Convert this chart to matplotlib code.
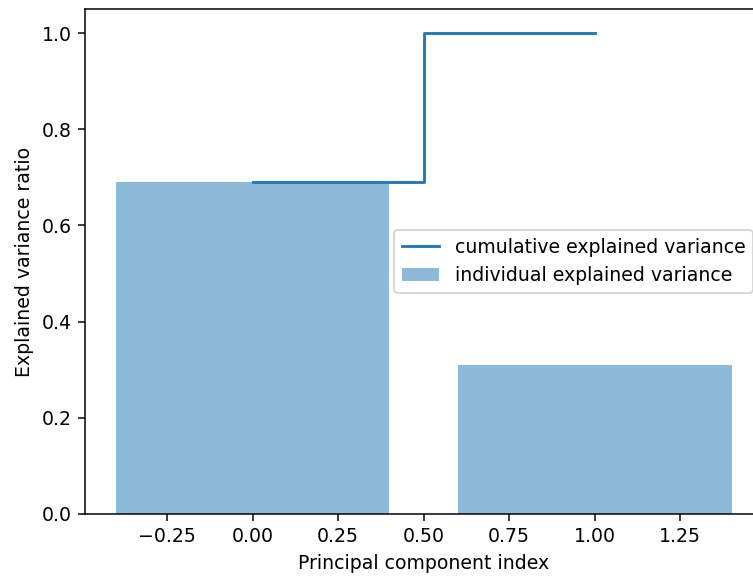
import numpy as np
import matplotlib
matplotlib.use("Agg")
import matplotlib.pyplot as plt

# Explained variance per principal component
component_index = [0, 1]
explained_variance = [0.69, 0.31]
cumulative_variance = list(np.cumsum(explained_variance))

DPI = 136
fig = plt.figure(figsize=(753 / DPI, 577 / DPI), dpi=DPI)
ax = fig.add_axes([0.1129, 0.1092, 0.8995, 0.8752])

ax.bar(component_index, explained_variance, alpha=0.5, align='center',
       label='individual explained variance')
ax.step(component_index, cumulative_variance, where='mid',
        label='cumulative explained variance')
ax.set_ylabel('Explained variance ratio')
ax.set_xlabel('Principal component index')
ax.legend(loc='center right')

fig.savefig('out.png', dpi=DPI)
